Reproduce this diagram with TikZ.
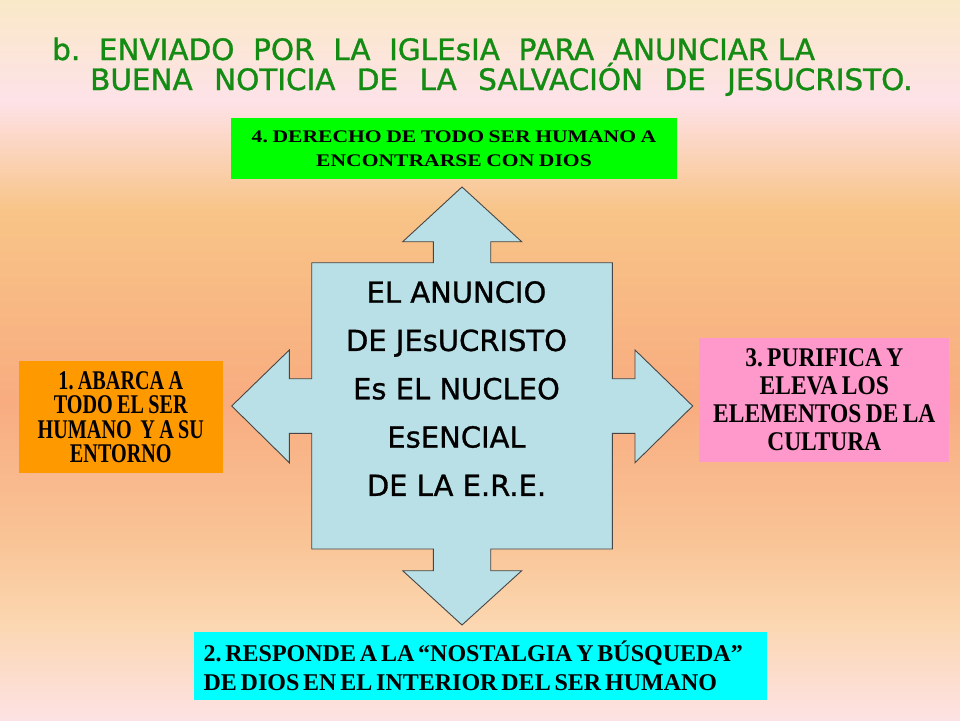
\documentclass[tikz,border=0pt]{standalone}
\usepackage{fontspec}
\setmainfont{Liberation Serif}
\newfontfamily\comicfont[FakeBold=1.2]{DejaVu Sans}
\newfontfamily\centerfont[FakeBold=1.0]{DejaVu Sans}
\newfontfamily\fgreen[FakeStretch=1.22]{Liberation Serif}
\newfontfamily\forange[FakeStretch=0.747]{Liberation Serif}
\newfontfamily\fpink[FakeStretch=0.87]{Liberation Serif}
\newfontfamily\fcyan[FakeStretch=1.0]{Liberation Serif}
\definecolor{titlegreen}{RGB}{20,140,20}
\definecolor{crossfill}{RGB}{185,224,230}
\definecolor{crossline}{RGB}{70,70,70}
\definecolor{boxgreen}{RGB}{0,255,0}
\definecolor{boxorange}{RGB}{255,153,0}
\definecolor{boxpink}{RGB}{255,153,204}
\definecolor{boxcyan}{RGB}{0,255,255}
\definecolor{bgA}{RGB}{250,233,200}
\definecolor{bgB}{RGB}{253,226,232}
\definecolor{bgC}{RGB}{248,196,135}
\definecolor{bgD}{RGB}{248,172,128}
\definecolor{bgE}{RGB}{249,196,150}
\definecolor{bgF}{RGB}{251,214,175}
\definecolor{bgG}{RGB}{253,226,228}
\newcommand\tightsp[1]{\frenchspacing\spaceskip=#1em\xspaceskip=#1em\relax}
\newcommand\wsp{\ \ \hspace{2.7pt}}
\tikzset{
  infobox/.style={draw=none, inner sep=0pt, align=center, text=black},
  crossshape/.style={draw=crossline, fill=crossfill, line width=0.9pt, line join=miter},
  titletext/.style={anchor=base west, inner sep=0pt, text=titlegreen, font=\comicfont\fontsize{29.45}{34}\selectfont}
}
\begin{document}
\begin{tikzpicture}[x=1pt,y=-1pt]
\useasboundingbox (0,0) rectangle (960,720);
% background gradient
\fill[top color=bgA, bottom color=bgB] (0,0) rectangle (960,101);
\fill[top color=bgB, bottom color=bgC] (0,100) rectangle (960,211);
\fill[top color=bgC, bottom color=bgD] (0,210) rectangle (960,401);
\fill[top color=bgD, bottom color=bgE] (0,400) rectangle (960,541);
\fill[top color=bgE, bottom color=bgF] (0,540) rectangle (960,621);
\fill[top color=bgF, bottom color=bgG] (0,620) rectangle (960,720);
% title
\node[titletext] (title1) at (52,60) {b.\ \ ENVIADO\ \ POR\ \ LA\ \ IGLEsIA\ \ PARA\ \ ANUNCIAR LA};
\node[titletext] (title2) at (90,90) {BUENA\wsp NOTICIA\wsp DE\wsp LA\wsp SALVACIÓN\wsp DE\wsp JESUCRISTO.};
% cross arrow
\draw[crossshape] (462,187) -- (521.7,241.7) -- (490.7,241.7) -- (490.7,262.7)
  -- (612.3,262.7) -- (612.3,378.7) -- (635,378.7) -- (635,350) -- (692.7,406)
  -- (635,462.7) -- (635,433.3) -- (612.3,433.3) -- (612.3,549) -- (490.7,549)
  -- (490.7,570.7) -- (521.7,570.7) -- (462,625) -- (402.7,570.7) -- (433.3,570.7)
  -- (433.3,549) -- (311.7,549) -- (311.7,433.3) -- (289.3,433.3) -- (289.3,462.7)
  -- (231.7,406) -- (289.3,350) -- (289.3,378.7) -- (311.7,378.7) -- (311.7,262.7)
  -- (433.3,262.7) -- (433.3,241.7) -- (402.7,241.7) -- cycle;
\node[align=center, inner sep=0pt, font=\centerfont\fontsize{29}{48.3}\selectfont] (anuncio) at (456.5,388.5)
  {EL ANUNCIO\\DE JEsUCRISTO\\Es EL NUCLEO\\EsENCIAL\\DE LA E.R.E.};
% boxes
\node[infobox, fill=boxgreen, minimum width=446pt, minimum height=61pt, text width=446pt,
  font=\fgreen\bfseries\fontsize{17.7}{23.5}\selectfont] (derecho) at (454,148.6)
  {\tightsp{0.26}4. DERECHO DE TODO SER HUMANO A\\ENCONTRARSE CON DIOS};
\node[infobox, fill=boxorange, minimum width=203.7pt, minimum height=111.7pt, text width=203.7pt,
  font=\forange\bfseries\fontsize{27}{24.5}\selectfont] (abarca) at (120.8,417)
  {\tightsp{0.16}1. ABARCA A\\TODO EL SER\\HUMANO\ \ Y A SU\\ENTORNO};
\node[infobox, fill=boxpink, minimum width=250pt, minimum height=123.3pt, text width=250pt,
  font=\fpink\bfseries\fontsize{27}{28}\selectfont] (purifica) at (824.3,400)
  {\tightsp{0.16}3. PURIFICA Y\\ELEVA LOS\\ELEMENTOS DE LA\\CULTURA};
\node[infobox, fill=boxcyan, minimum width=573pt, minimum height=68.3pt, text width=553pt,
  inner xsep=10pt, align=left, font=\fcyan\bfseries\fontsize{24}{29.5}\selectfont] (responde) at (480,665.8)
  {\tightsp{0.16}2. RESPONDE A LA “NOSTALGIA Y BÚSQUEDA”\\DE DIOS EN EL INTERIOR DEL SER HUMANO};
\end{tikzpicture}
\end{document}
